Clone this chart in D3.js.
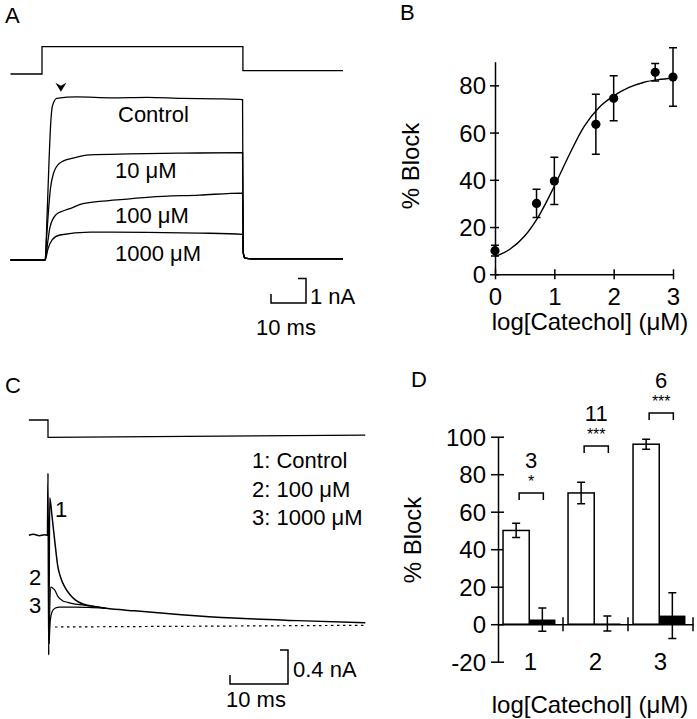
<!DOCTYPE html>
<html><head><meta charset="utf-8">
<script src="https://cdn.jsdelivr.net/npm/d3@7"></script>
<style>
body{margin:0;background:#fff;}
svg{display:block;font-family:"Liberation Sans",Arial,Helvetica,sans-serif;}
</style></head><body>
<svg id="fig" width="697" height="719"></svg>
<script>
// ================= DATA =================
// Panel A: command step (relative level) and currents (time ms, current nA)
const cmdA = [[-9,0],[0,0],[0,1],[57.4,1],[57.4,0.12],[86,0.12]];
const traceAControl = [[-9,0],[0.9,0],[1.5,2.0],[2.0,4.0],[2.5,5.6],[3.0,6.3],[4.2,6.6],[10,6.66],[20,6.62],[30,6.64],[40,6.6],[50,6.58],[57.3,6.55],[57.5,0.3],[58,0.08],[60,0.05],[86,0.05]];
const traceA10 = [[-9,0],[0.9,0],[1.3,0.9],[1.8,1.92],[2.4,2.9],[3.2,3.5],[5.1,3.96],[8.9,4.16],[13.7,4.29],[25,4.33],[40,4.36],[57.3,4.38],[57.5,0.3],[58,0.08],[60,0.05],[86,0.05]];
const traceA100 = [[-9,0],[0.9,0],[1.7,0.8],[2.3,1.35],[4,1.85],[6,2.0],[8,2.1],[11.7,2.3],[21.4,2.45],[30.9,2.57],[45,2.65],[57.3,2.73],[57.5,0.3],[58,0.08],[60,0.05],[86,0.05]];
const traceA1000 = [[-9,0],[0.9,0],[1.7,0.45],[2.9,0.82],[5.1,1.02],[13.7,1.14],[30,1.13],[45,1.1],[57.3,1.05],[57.5,0.3],[58,0.08],[60,0.05],[86,0.05]];
const labelsA = ["Control","10 μM","100 μM","1000 μM"];

// Panel B: dose-response
const logCatB = [0, 0.7, 1, 1.7, 2, 2.7, 3];
const blockB  = [10, 30, 39.5, 63.5, 74.5, 85.5, 83.5];
const semB    = [2.3, 6, 10, 12.7, 9.5, 3.7, 12.4];
const fitX = [0,0.25,0.5,0.75,1,1.25,1.5,1.75,2,2.25,2.5,2.75,3];
const fitY = [7.5,10.6,16.2,25.2,37.3,50.5,62.5,70.5,75.5,79,81.2,82.4,83];
const ticksBY = [0,20,40,60,80];
const ticksBX = [0,1,2,3];

// Panel C: command and tail currents (time ms, current nA)
const cmdC = [[-3.3,1],[0,1],[0,0],[54.7,0.12]];
const traceC1 = [[-3.3,1.08],[-2.5,1.09],[-1.5,1.075],[-0.6,1.085],[-0.1,1.08],[0,1.81],[0.12,-0.33],[0.3,1.52],[0.7,1.3],[1.2,0.99],[1.7,0.71],[2.3,0.56],[2.9,0.47],[3.8,0.38],[4.7,0.32],[6,0.27],[8,0.24],[10,0.22],[15,0.19],[23,0.145],[32,0.105],[43,0.075],[54.7,0.05]];
const traceC2 = [[0.2,-0.15],[0.45,0.47],[0.8,0.46],[1.2,0.43],[1.7,0.36],[2.5,0.31],[3.4,0.29],[4.7,0.27],[6,0.26],[8,0.24],[10,0.22]];
const traceC3 = [[0.2,-0.2],[0.4,0.08],[0.7,0.18],[1.2,0.22],[2,0.235],[4.7,0.235],[7,0.23],[10,0.22]];
const zeroC = [[1.2,0],[54.7,0.02]];
const legendC = ["1: Control","2: 100 μM","3: 1000 μM"];

// Panel D: bars
const groupsD = ["1","2","3"];
const whiteD = [50, 70, 96];
const whiteErrD = [3.8, 5.7, 2.7];
const blackD = [2.5, 0.4, 4.6];
const blackErrD = [6.2, 4, 12.2];
const nD = ["3","11","6"];
const sigD = ["*","***","***"];
const bracketD = [70, 95, 112.7];
const ticksDY = [-20,0,20,40,60,80,100];

// ================= DRAW =================
const svg = d3.select("#fig");
const FONT = 22, AX = 24;
const txt = (x,y,s,size,anchor) => svg.append("text").attr("x",x).attr("y",y)
  .attr("font-size",size).attr("text-anchor",anchor||"start").attr("fill","#000").text(s);

// panel letters
txt(5,23,"A",FONT); txt(400,19.5,"B",FONT); txt(5,393,"C",FONT); txt(411,387,"D",FONT);

// ---------- Panel A ----------
const xA = d3.scaleLinear().domain([0,10]).range([42,77]);
const yA = d3.scaleLinear().domain([0,1]).range([260,235.5]);
const yCmdA = d3.scaleLinear().domain([0,1]).range([74,46.7]);
const lineA = d3.line().x(d=>xA(d[0])).y(d=>yA(d[1])).curve(d3.curveMonotoneX);
svg.append("path").attr("d", d3.line().x(d=>xA(d[0])).y(d=>yCmdA(d[1]))(cmdA))
  .attr("fill","none").attr("stroke","#000").attr("stroke-width",1.3);
[traceAControl, traceA10, traceA100, traceA1000].forEach(tr=>{
  svg.append("path").attr("d", lineA(tr)).attr("fill","none").attr("stroke","#000").attr("stroke-width",1.3);
});
const labYA = [122,178,223,261];
labelsA.forEach((s,i)=> txt(i===0?118:115, labYA[i], s, FONT));
// arrowhead
{ const ax = xA(5.4), ay = yA(6.66)-5;
  svg.append("path").attr("d",`M${ax-5.5},${ay-9}L${ax},${ay}L${ax+5.5},${ay-9}L${ax},${ay-6}Z`).attr("fill","#000"); }
// scale bar A
{ const x0 = 271, y0 = 303;
  const w = xA(10)-xA(0), h = yA(0)-yA(1);
  svg.append("path").attr("d",`M${x0},${y0-9}V${y0}H${x0+w}V${y0-h}H${x0+w-8}`)
    .attr("fill","none").attr("stroke","#000").attr("stroke-width",1.5);
  txt(x0+w+4, 304, "1 nA", FONT);
  txt(256, 335, "10 ms", FONT);
}

// ---------- Panel B ----------
const xB = d3.scaleLinear().domain([0,3]).range([495,673]);
const yB = d3.scaleLinear().domain([0,90]).range([274.3,61.7]);
const gBy = svg.append("g").attr("transform",`translate(${xB(0)},0)`)
  .call(d3.axisLeft(yB).tickValues(ticksBY).tickSizeOuter(0).tickFormat(d=>String(d)));
gBy.selectAll(".tick line").attr("x1",-5).attr("x2",4).attr("stroke-width",1.5);
gBy.selectAll(".tick text").attr("x",-9).attr("dy","0.36em").attr("font-size",AX).attr("font-family","inherit").attr("fill","#000");
gBy.select(".domain").attr("stroke-width",1.5);
const gBx = svg.append("g").attr("transform",`translate(0,${yB(0)})`)
  .call(d3.axisBottom(xB).tickValues(ticksBX).tickSizeOuter(0).tickFormat(d=>String(d)));
gBx.selectAll(".tick line").attr("y1",-5).attr("y2",5).attr("stroke-width",1.5);
gBx.selectAll(".tick text").attr("y",31).attr("dy",0).attr("font-size",AX).attr("font-family","inherit").attr("fill","#000");
gBx.select(".domain").attr("stroke-width",1.5);
svg.append("path").attr("d", d3.line().x((d,i)=>xB(fitX[i])).y(d=>yB(d)).curve(d3.curveMonotoneX)(fitY))
  .attr("fill","none").attr("stroke","#000").attr("stroke-width",1.4);
logCatB.forEach((c,i)=>{
  const x = xB(c), y1 = yB(blockB[i]+semB[i]), y2 = yB(blockB[i]-semB[i]);
  svg.append("path").attr("d",`M${x},${y1}V${y2}M${x-4},${y1}H${x+4}M${x-4},${y2}H${x+4}`)
    .attr("stroke","#000").attr("stroke-width",1.5).attr("fill","none");
  svg.append("circle").attr("cx",x).attr("cy",yB(blockB[i])).attr("r",4.6).attr("fill","#000");
});
txt(590, 330, "log[Catechol] (μM)", AX, "middle");
svg.append("text").attr("transform","translate(419,166) rotate(-90)").attr("text-anchor","middle")
  .attr("font-size",AX).text("% Block");

// ---------- Panel C ----------
const xC = d3.scaleLinear().domain([0,10]).range([48,106]);
const yC = d3.scaleLinear().domain([0,0.4]).range([627,593]);
const yCmdC = d3.scaleLinear().domain([0,1]).range([437.3,420]);
svg.append("path").attr("d", d3.line().x(d=>xC(d[0])).y(d=>yCmdC(d[1]))(cmdC))
  .attr("fill","none").attr("stroke","#000").attr("stroke-width",1.3);
const lineC = d3.line().x(d=>xC(d[0])).y(d=>yC(d[1])).curve(d3.curveMonotoneX);
svg.append("path").attr("d", lineC(traceC1)).attr("fill","none").attr("stroke","#000").attr("stroke-width",1.5);
[traceC2, traceC3].forEach(tr=> svg.append("path").attr("d", lineC(tr)).attr("fill","none").attr("stroke","#000").attr("stroke-width",1.2));
svg.append("path").attr("d", d3.line().x(d=>xC(d[0])).y(d=>yC(d[1]))(zeroC))
  .attr("stroke","#000").attr("stroke-width",1.2).attr("stroke-dasharray","2.5,3.5").attr("fill","none");
txt(55,517,"1",FONT); txt(29,585,"2",FONT); txt(29,613,"3",FONT);
const legY = [468,497,525];
legendC.forEach((s,i)=> txt(252, legY[i], s, FONT));
{ const x0 = 230, y0 = 684;
  const w = xC(10)-xC(0), h = yC(0)-yC(0.4);
  svg.append("path").attr("d",`M${x0},${y0-9}V${y0}H${x0+w}V${y0-h}H${x0+w-8}`)
    .attr("fill","none").attr("stroke","#000").attr("stroke-width",1.5);
  txt(x0+w+5, 677, "0.4 nA", FONT);
  txt(226, 707, "10 ms", FONT);
}

// ---------- Panel D ----------
const xD = d3.scaleBand().domain(groupsD).range([498,693]).padding(0);
const xDin = d3.scaleBand().domain(["w","b"]).range([0,xD.bandwidth()]).paddingInner(0).paddingOuter(0.24).align(0.4);
const yD = d3.scaleLinear().domain([-20,100]).range([661.7,436.7]);
// y axis
const gDy = svg.append("g").attr("transform",`translate(${xD.range()[0]},0)`)
  .call(d3.axisLeft(yD).tickValues(ticksDY).tickSizeOuter(0).tickFormat(d=>String(d)));
gDy.selectAll(".tick line").attr("x1",-7).attr("x2",6).attr("stroke-width",1.5);
gDy.selectAll(".tick text").attr("x",-12).attr("dy","0.36em").attr("font-size",AX).attr("font-family","inherit").attr("fill","#000");
gDy.select(".domain").attr("stroke-width",1.5);
// x axis
const gDx = svg.append("g").attr("transform",`translate(0,${yD(0)})`)
  .call(d3.axisBottom(xD).tickSize(0).tickSizeOuter(0));
gDx.selectAll(".tick text").attr("y",46).attr("dy",0).attr("font-size",AX).attr("font-family","inherit").attr("fill","#000");
gDx.select(".domain").attr("stroke-width",1.5);
groupsD.forEach(g=>{
  const xb = xD(g)+xD.bandwidth();
  svg.append("line").attr("x1",xb).attr("x2",xb).attr("y1",yD(0)-7).attr("y2",yD(0)+7).attr("stroke","#000").attr("stroke-width",1.5);
});
// bars
groupsD.forEach((g,i)=>{
  const xw = xD(g)+xDin("w"), xbk = xD(g)+xDin("b"), bw = xDin.bandwidth();
  svg.append("rect").attr("x",xw).attr("y",yD(whiteD[i])).attr("width",bw).attr("height",yD(0)-yD(whiteD[i]))
    .attr("fill","#fff").attr("stroke","#000").attr("stroke-width",1.5);
  svg.append("rect").attr("x",xbk).attr("y",yD(blackD[i])).attr("width",bw).attr("height",yD(0)-yD(blackD[i]))
    .attr("fill","#000");
  const eb = (cx,v,e)=>{
    const y1=yD(v+e), y2=yD(v-e);
    svg.append("path").attr("d",`M${cx},${y1}V${y2}M${cx-4},${y1}H${cx+4}M${cx-4},${y2}H${cx+4}`)
      .attr("stroke","#000").attr("stroke-width",1.5).attr("fill","none");
  };
  const cw = xw+bw/2, cb = xbk+bw/2;
  eb(cw, whiteD[i], whiteErrD[i]);
  eb(cb, blackD[i], blackErrD[i]);
  // significance bracket
  const by = yD(bracketD[i]);
  svg.append("path").attr("d",`M${cw+3},${by+7}V${by}H${cb+1}V${by+7}`)
    .attr("fill","none").attr("stroke","#000").attr("stroke-width",1.5);
  const mid = (cw+3+cb+1)/2;
  txt(mid, by-6, sigD[i], 16, "middle");
  txt(mid, by-25, nD[i], FONT, "middle");
});
txt(590, 713, "log[Catechol] (μM)", AX, "middle");
svg.append("text").attr("transform","translate(421,540) rotate(-90)").attr("text-anchor","middle")
  .attr("font-size",AX).text("% Block");
</script>
</body></html>
